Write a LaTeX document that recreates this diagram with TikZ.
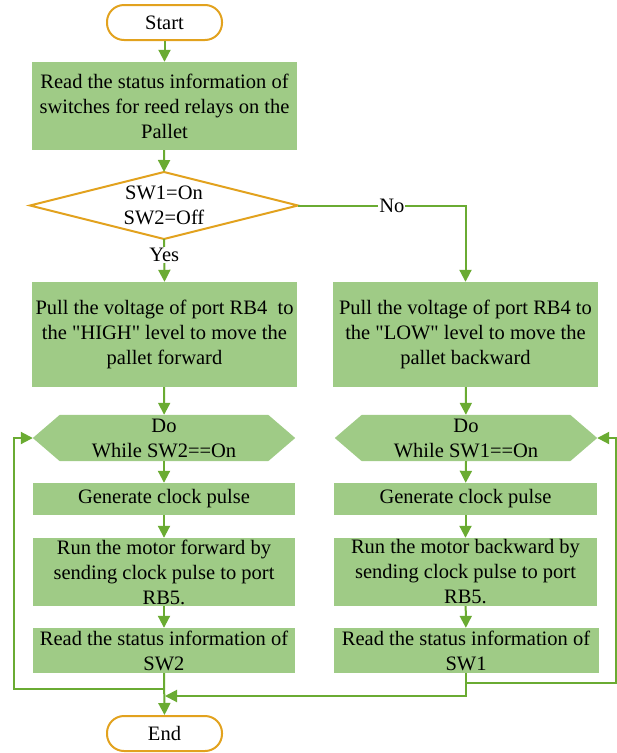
\documentclass[tikz,border=0pt]{standalone}
\usepackage{fontspec}
\setmainfont{Liberation Serif}[Ligatures=TeXOff]
\usetikzlibrary{arrows.meta,calc}
\definecolor{boxgreen}{HTML}{9FCB86}
\definecolor{linegreen}{HTML}{6AAB32}
\definecolor{termorange}{HTML}{E2A21E}
\tikzset{
  every node/.style={font=\fontsize{20.5}{25}\selectfont, align=center, inner sep=0pt},
  term/.style={draw=termorange, line width=2pt, fill=white, rounded corners=17pt, minimum width=115pt, minimum height=35pt},
  procbox/.style={fill=boxgreen, minimum width=265pt},
  conn/.style={draw=linegreen, line width=2pt, -{Triangle[width=12pt,length=12pt]}},
  plain/.style={draw=linegreen, line width=2pt},
  lbl/.style={fill=white, inner sep=1pt}
}
\begin{document}
\begin{tikzpicture}[x=1pt,y=-1pt]
\useasboundingbox (0,0) rectangle (617,753);
% nodes
\node[term] (start) at (164.5,22.5) {Start};
\node[procbox, minimum height=88pt] (read) at (164.5,106) {Read the status information of\\switches for reed relays on the\\Pallet};
% decision
\coordinate (dtop) at (164,172);
\coordinate (dbot) at (164,239);
\coordinate (dleft) at (30,205.5);
\coordinate (dright) at (298,205.5);
\draw[termorange, line width=2pt, fill=white] (dtop) -- (dright) -- (dbot) -- (dleft) -- cycle;
\node (dec) at (164,205.5) {SW1=On\\SW2=Off};
% second row
\node[procbox, minimum height=105pt] (pullL) at (164.5,334.5) {Pull the voltage of port RB4\ \ to\\the "HIGH" level to move the\\pallet forward};
\node[procbox, minimum height=105pt] (pullR) at (465.5,334.5) {Pull the voltage of port RB4 to\\the "LOW" level to move the\\pallet backward};
% hexagons
\node[minimum width=262pt, minimum height=46pt] (hexL) at (164,438) {};
\node[minimum width=262pt, minimum height=46pt] (hexR) at (466,438) {};
\foreach \h in {hexL,hexR}{
  \fill[boxgreen] (\h.west) -- ([xshift=27pt]\h.north west) -- ([xshift=-27pt]\h.north east) -- (\h.east) -- ([xshift=-27pt]\h.south east) -- ([xshift=27pt]\h.south west) -- cycle;
}
\node at (hexL) {Do\\While SW2==On};
\node at (hexR) {Do\\While SW1==On};
% loop bodies
\node[procbox, minimum width=262pt, minimum height=32pt] (genL) at (164,499) {Generate clock pulse};
\node[procbox, minimum width=263pt, minimum height=32pt] (genR) at (465.5,499) {Generate clock pulse};
\node[procbox, minimum width=262pt, minimum height=68pt] (runL) at (164,572) {Run the motor forward by\\sending clock pulse to port\\RB5.};
\node[procbox, minimum width=263pt, minimum height=68pt] (runR) at (465.5,572) {Run the motor backward by\\sending clock pulse to port\\RB5.};
\node[procbox, minimum width=262pt, minimum height=45pt] (rdL) at (164,650.5) {Read the status information of\\SW2};
\node[procbox, minimum width=265pt, minimum height=45pt] (rdR) at (466,650.5) {Read the status information of\\SW1};
\node[term] (end) at (164.5,733.5) {End};
% connectors
\draw[conn] (start) -- (read);
\draw[conn] (read) -- (dtop);
\draw[conn] (dbot) -- (pullL.north) node[lbl, pos=0.37] {Yes};
\draw[conn] (dright) -| (pullR.north) node[lbl, pos=0.28] {No};
\draw[conn] (pullL) -- (hexL);
\draw[conn] (pullR) -- (hexR);
\draw[conn] (hexL.south) -- (genL);
\draw[conn] (hexR.south) -- (genR);
\draw[conn] (genL) -- (runL);
\draw[conn] (genR) -- (runR);
\draw[conn] (runL) -- (rdL);
\draw[conn] (runR) -- (rdR);
\draw[conn] (rdL.south) -- (end.north);
\coordinate (jL) at (164,689);
\coordinate (cL) at (14,689);
\draw[conn] (jL) -- (cL) |- (hexL.west);
\coordinate (jR) at (466,683);
\coordinate (cR) at (616,683);
\draw[plain] (rdR.south) -- (jR);
\draw[conn] (jR) -- (cR) |- (hexR.east);
\coordinate (jR2) at (466,696);
\coordinate (jE) at (165,696);
\draw[conn] (jR) -- (jR2) -- (jE);
\end{tikzpicture}
\end{document}
